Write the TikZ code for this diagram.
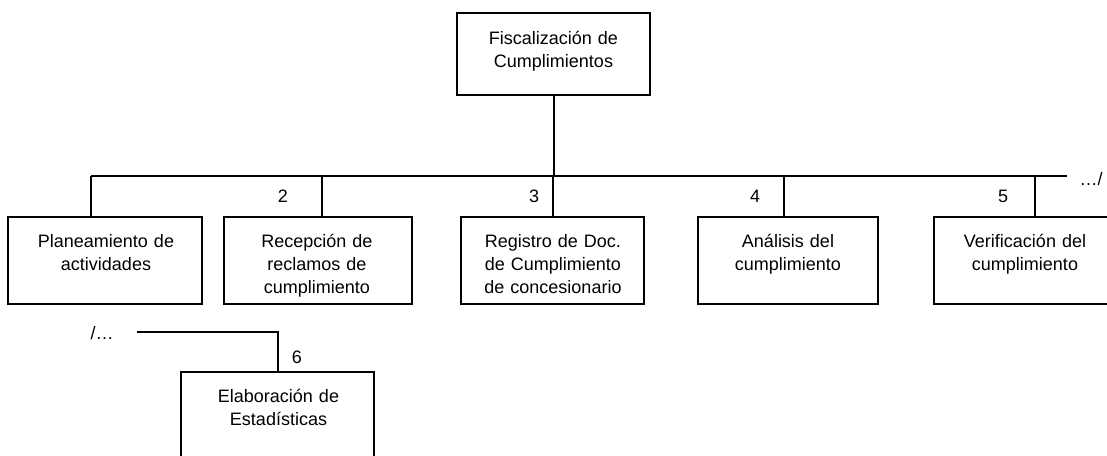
\documentclass[tikz,border=0pt]{standalone}
\usepackage{fontspec}
\setmainfont{Liberation Sans}
\tikzset{
  box/.style={draw=black, line width=1.5pt, rectangle, inner sep=0pt, minimum height=65.25pt},
  txt/.style={anchor=base, inner sep=0pt, align=center, text width=135pt, font=\fontsize{13.5}{17.25}\selectfont},
  lbl/.style={inner sep=0pt, font=\fontsize{13.5}{16}\selectfont},
  conn/.style={draw=black, line width=1.5pt}
}
\begin{document}
\begin{tikzpicture}[x=0.75pt,y=-0.75pt]
\clip (0,0) rectangle (1107,455);
\fill[white] (0,0) rectangle (1107,455);
% boxes
\node[box, minimum width=144.75pt, minimum height=61.5pt] (top) at (553.5,54) {};
\node[box, minimum width=145.5pt] (b1) at (105,260.5) {};
\node[box, minimum width=141pt] (b2) at (318,260.5) {};
\node[box, minimum width=137.25pt] (b3) at (552.5,260.5) {};
\node[box, minimum width=135pt] (b4) at (788,260.5) {};
\node[box, minimum width=136.5pt] (b5) at (1025,260.5) {};
\node[box, minimum width=144.75pt, minimum height=75pt] (b6) at (277.5,422) {};
% texts
\node[txt] (t0) at (553.5,44) {Fiscalización de\\Cumplimientos};
\node[txt] (t1) at (106,247.5) {Planeamiento de\\actividades};
\begin{scope}
\clip (224,217) rectangle (412,296);
\node[txt] (t2) at (317,247.5) {Recepción de\\reclamos de\\cumplimiento};
\end{scope}
\node[txt] (t3) at (553,247.5) {Registro de Doc.\\de Cumplimiento\\de concesionario};
\node[txt] (t4) at (788,247.5) {Análisis del\\cumplimiento};
\node[txt] (t5) at (1025,247.5) {Verificación del\\cumplimiento};
\node[txt] (t6) at (278.5,402) {Elaboración de\\Estadísticas};
% connectors
\coordinate (busL) at (91,176);
\coordinate (busR) at (1067,176);
\draw[conn] (top.south) -- (top.south |- busL);
\draw[conn] (busL) -- (busR);
\draw[conn] (busL) -- (busL |- b1.north);
\draw[conn] ([xshift=3pt]b2.north) -- ([xshift=3pt]b2.north |- busL);
\draw[conn] (b3.north) -- (b3.north |- busL);
\draw[conn] ([xshift=-3pt]b4.north) -- ([xshift=-3pt]b4.north |- busL);
\draw[conn] ([xshift=7.5pt]b5.north) -- ([xshift=7.5pt]b5.north |- busL);
\coordinate (contL) at (137,332);
\draw[conn] (contL) -| (b6.north);
% labels
\node[lbl] (l2) at (283,196) {2};
\node[lbl] (l3) at (534,196) {3};
\node[lbl] (l4) at (755,196) {4};
\node[lbl] (l5) at (1003,196) {5};
\node[lbl] (l6) at (297,357) {6};
\node[lbl] (more) at (1091,179) {…/};
\node[lbl] (back) at (102,333) {/…};
\end{tikzpicture}
\end{document}
